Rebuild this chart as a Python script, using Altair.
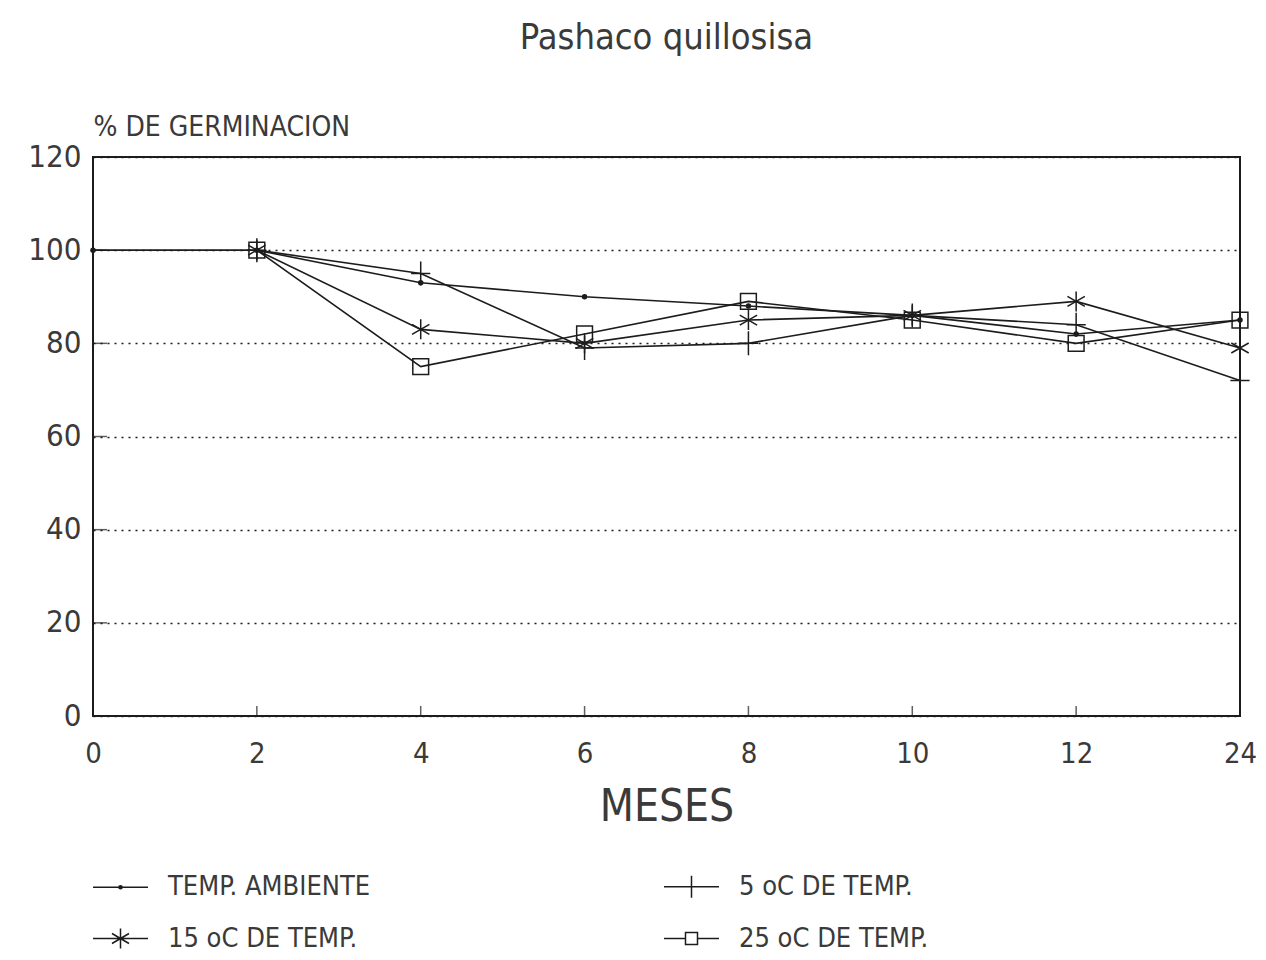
import altair as alt
import pandas as pd

months = ["0", "2", "4", "6", "8", "10", "12", "24"]
series = ["TEMP. AMBIENTE", "5 oC DE TEMP.", "15 oC DE TEMP.", "25 oC DE TEMP."]
ambiente = [100, 100, 93, 90, 88, 86, 82, 85]
t5 = [None, 100, 95, 79, 80, 86, 84, 72]
t15 = [None, 100, 83, 80, 85, 86, 89, 79]
t25 = [None, 100, 75, 82, 89, 85, 80, 85]
y_ticks = [0, 20, 40, 60, 80, 100, 120]

rows = []
for name, vals in zip(series, [ambiente, t5, t15, t25]):
    for m, v in zip(months, vals):
        if v is not None:
            rows.append({"mes": m, "pct": v, "serie": name})
df = pd.DataFrame(rows)
xt_df = pd.DataFrame({"mes": months[1:-1]})
yt_df = pd.DataFrame({"pct": y_ticks[1:-1]})

FONT = "Liberation Sans Narrow, DejaVu Sans Condensed, DejaVu Sans"
INK = "#1c1c1c"
TXT = "#3a3a3a"

PLUS = "M-0.8,0L0.8,0M0,-1L0,1"
STAR = "M0,-1L0,1M-0.87,-0.5L0.87,0.5M-0.87,0.5L0.87,-0.5"

# legend symbols: unit = 10 px, horizontal line 55 px long
legend_path = {
    series[0]: "M-2.75,0L2.75,0M-0.16,0A0.16,0.16 0 1,0 0.16,0A0.16,0.16 0 1,0 -0.16,0",
    series[1]: "M-2.75,0L2.75,0M0,-1.1L0,1.1",
    series[2]: "M-2.75,0L2.75,0M0,-1L0,1M-0.85,-0.5L0.85,0.5M-0.85,0.5L0.85,-0.5",
    series[3]: "M-2.75,0L-0.6,0M0.6,0L2.75,0M-0.6,-0.6L0.6,-0.6L0.6,0.6L-0.6,0.6Z",
}
# legend grid fills column by column: left column = ambiente, 15 oC
legend_order = [series[0], series[2], series[1], series[3]]

x_enc = alt.X(
    "mes:O",
    sort=months,
    scale=alt.Scale(type="point", padding=0),
    axis=alt.Axis(
        title="MESES",
        labelAngle=0,
        labelFontSize=29,
        labelFont=FONT,
        labelColor=TXT,
        labelPadding=23,
        ticks=False,
        domain=False,
        grid=False,
        titleFontSize=44,
        titleFont=FONT,
        titleFontWeight="normal",
        titleColor=TXT,
        titlePadding=17,
    ),
)
y_enc = alt.Y(
    "pct:Q",
    scale=alt.Scale(domain=[0, 120], nice=False, zero=True),
    axis=alt.Axis(
        values=y_ticks,
        title="% DE GERMINACION",
        titleAngle=0,
        titleX=0,
        titleY=-16,
        titleAlign="left",
        titleBaseline="bottom",
        titleFontSize=28,
        titleFont=FONT,
        titleFontWeight="normal",
        titleColor=TXT,
        labelFontSize=31,
        labelFont=FONT,
        labelColor=TXT,
        labelPadding=12,
        ticks=False,
        domain=False,
        grid=True,
        gridColor=INK,
        gridDash=[2, 5],
        gridWidth=1.5,
        minExtent=70,
        maxExtent=70,
    ),
)

base = alt.Chart(df)

lines = base.mark_line(color=INK, strokeWidth=1.6).encode(
    x=x_enc, y=y_enc, detail="serie:N"
)

dots = base.transform_filter(alt.datum.serie == series[0]).mark_point(
    shape="circle", filled=True, size=30, color=INK, opacity=1
).encode(x=x_enc, y=y_enc)
plus = base.transform_filter(alt.datum.serie == series[1]).mark_point(
    shape=PLUS, size=576, color=INK, strokeWidth=1.5, opacity=1
).encode(x=x_enc, y=y_enc)
stars = base.transform_filter(alt.datum.serie == series[2]).mark_point(
    shape=STAR, size=400, color=INK, strokeWidth=1.5, opacity=1
).encode(x=x_enc, y=y_enc)
squares = base.transform_filter(alt.datum.serie == series[3]).mark_point(
    shape="square", size=250, color=INK, strokeWidth=1.5, filled=False, opacity=1
).encode(x=x_enc, y=y_enc)

# inward tick marks
xticks = alt.Chart(xt_df).mark_tick(
    orient="vertical", size=10, yOffset=-5, color=INK, thickness=1.5
).encode(x=x_enc, y=alt.datum(0))
yticks = alt.Chart(yt_df).mark_tick(
    orient="horizontal", size=14, xOffset=7, color=INK, thickness=1.5
).encode(y=y_enc, x=alt.datum("0"))

legend_layer = base.mark_point(opacity=0).encode(
    x=x_enc,
    y=y_enc,
    shape=alt.Shape(
        "serie:N",
        scale=alt.Scale(domain=legend_order, range=[legend_path[s] for s in legend_order]),
        legend=alt.Legend(
            title=None,
            orient="none",
            legendX=14,
            legendY=716,
            columns=2,
            columnPadding=290,
            rowPadding=23,
            padding=0,
            symbolSize=400,
            symbolStrokeWidth=1.5,
            symbolStrokeColor=INK,
            symbolFillColor="transparent",
            symbolOpacity=1,
            labelFontSize=27,
            labelFont=FONT,
            labelColor=TXT,
            labelOffset=34,
            labelLimit=400,
        ),
    ),
)

chart = (
    alt.layer(lines, xticks, yticks, dots, plus, stars, squares, legend_layer)
    .properties(
        width=1147,
        height=559,
        padding={"left": 15, "top": 12, "right": 0, "bottom": 0},
        title=alt.TitleParams(
            "Pashaco quillosisa",
            fontSize=36,
            font=FONT,
            fontWeight="normal",
            color=TXT,
            offset=56,
        ),
        background="white",
    )
    .configure_view(stroke=INK, strokeWidth=2)
)

chart.save("out.html", embed_options={"renderer": "svg", "actions": False})
